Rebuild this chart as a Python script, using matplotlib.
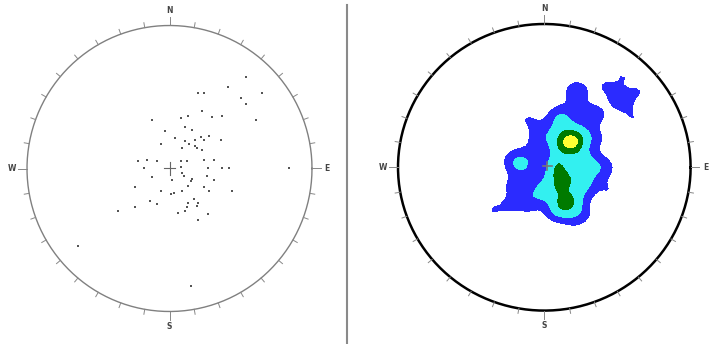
import numpy as np
import matplotlib
matplotlib.use('Agg')
from matplotlib import pyplot as plt
from matplotlib.lines import Line2D

# poles on the net, east / north in units of the net radius
pole_x = [0.54, 0.41, 0.20, 0.24, 0.65, 0.50, 0.54, 0.23, 0.30, 0.37,
          0.61, -0.12, 0.13, 0.08, -0.03, 0.11, 0.16, 0.04, 0.11, 0.18,
          0.22, 0.28, 0.24, 0.36, -0.06, 0.14, 0.18, 0.09, 0.19, 0.23,
          -0.22, -0.16, -0.09, -0.18, 0.08, 0.12, 0.08, 0.24, 0.31, 0.27,
          0.37, 0.42, 0.84, -0.12, 0.09, 0.10, 0.02, 0.16, 0.15, 0.26,
          0.31, 0.13, -0.24, -0.06, 0.01, 0.03, 0.09, 0.24, 0.28, 0.44,
          -0.14, -0.09, -0.24, -0.36, 0.17, 0.20, 0.19, 0.13, 0.12, 0.11,
          0.06, 0.27, 0.20, -0.64, 0.15]
pole_y = [0.64, 0.57, 0.53, 0.53, 0.53, 0.49, 0.45, 0.40, 0.36, 0.37,
          0.34, 0.34, 0.37, 0.35, 0.26, 0.29, 0.27, 0.21, 0.19, 0.20,
          0.22, 0.23, 0.20, 0.20, 0.17, 0.17, 0.16, 0.14, 0.14, 0.13,
          0.05, 0.06, 0.05, 0.00, 0.05, 0.05, 0.01, 0.06, 0.06, 0.00,
          0.00, 0.00, 0.00, -0.06, -0.03, -0.05, -0.08, -0.07, -0.09, -0.05,
          -0.08, -0.12, -0.13, -0.16, -0.18, -0.17, -0.16, -0.13, -0.16, -0.16,
          -0.23, -0.25, -0.27, -0.30, -0.21, -0.24, -0.26, -0.24, -0.27, -0.30,
          -0.31, -0.32, -0.36, -0.54, -0.82]

dir_labels = ['N', 'E', 'S', 'W']
dir_azimuths = [0, 90, 180, 270]
tick_azimuths = np.arange(0, 360, 10)

# density levels (points per counting area) and their fill colours
density_levels = [1.1, 2.5, 4.4, 5.75, 99]
density_colors = ['#2b2bff', '#33f0f0', '#007a00', '#ffff33']
sigma = 0.058

W, H = 711, 344
fig = plt.figure(figsize=(W / 100, H / 100), dpi=100)
lim = 1.18


def net_axes(cx, cy, rx, ry):
    # axes placed so the unit circle lands at (cx, cy) px
    ax = fig.add_axes([(cx - lim * rx) / W, (H - cy - lim * ry) / H,
                       2 * lim * rx / W, 2 * lim * ry / H])
    ax.set_xlim(-lim, lim)
    ax.set_ylim(-lim, lim)
    ax.axis('off')
    return ax


def draw_net(ax, circ_color, circ_lw):
    t = np.linspace(0, 2 * np.pi, 400)
    ax.plot(np.cos(t), np.sin(t), color=circ_color, lw=circ_lw, zorder=3)
    for a in tick_azimuths:
        r = np.radians(a)
        r1 = 1.06 if a % 90 == 0 else 1.035
        ax.plot([np.sin(r), r1 * np.sin(r)], [np.cos(r), r1 * np.cos(r)],
                color='#888888', lw=0.7, zorder=3)
    for lab, a in zip(dir_labels, dir_azimuths):
        r = np.radians(a)
        ax.text(1.105 * np.sin(r), 1.105 * np.cos(r), lab, ha='center', va='center',
                fontsize=5.5, fontweight='bold', color='#444444')


# left: pole plot
ax1 = net_axes(169.5, 168.5, 142.5, 143)
draw_net(ax1, '#808080', 1.0)
ax1.plot([-0.04, 0.04], [0, 0], color='#666666', lw=0.8)
ax1.plot([0, 0], [-0.045, 0.045], color='#666666', lw=0.8)
ax1.plot(pole_x, pole_y, 's', ms=1.8, mew=0, color='#555555')

# right: density contours of the same poles, counted on a coarse grid
ax2 = net_axes(544.3, 167.3, 146.3, 143.3)
g = np.linspace(-1, 1, 81)
XX, YY = np.meshgrid(g, g)
dens = np.zeros_like(XX)
for px, py in zip(pole_x, pole_y):
    dens += np.exp(-((XX - px) ** 2 + (YY - py) ** 2) / (2 * sigma ** 2))
dens[XX ** 2 + YY ** 2 > 1] = 0
ax2.contourf(XX, YY, dens, levels=density_levels, colors=density_colors)
draw_net(ax2, 'black', 1.8)
ax2.plot([-0.01, 0.05], [0.01, 0.01], color='#777777', lw=1.2)
ax2.plot([0.02, 0.02], [-0.02, 0.04], color='#777777', lw=1.2)

# divider between the panels
fig.add_artist(Line2D([347 / W, 347 / W], [0, 1 - 5 / H], color='#8a8a8a', lw=1.5))

plt.savefig('out.png', dpi=100)
